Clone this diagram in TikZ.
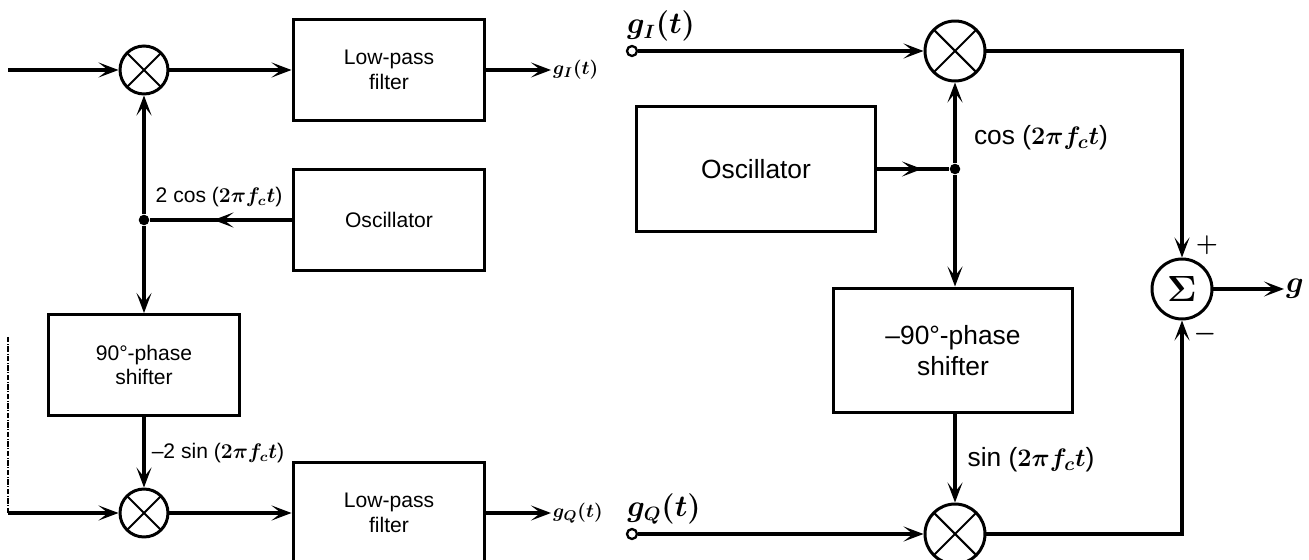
\documentclass[tikz,border=0pt]{standalone}
\usepackage{fontspec}
\setmainfont{Liberation Sans}
\usetikzlibrary{positioning, arrows.meta, decorations.markings}

\begin{document}
\begin{tikzpicture}[
  x=0.02cm, y=-0.02cm,
  font=\fontsize{12}{14}\selectfont,
  tip/.tip={Stealth[length=4mm, width=3mm, inset=1.9mm]},
  sigline/.style={line width=2.2pt},
  sig/.style={sigline, -tip},
  midarrow/.style={
    sigline,
    postaction={decorate},
    decoration={markings, mark=at position #1 with {\arrow{tip}}}
  },
  block/.style={
    draw,
    line width=1.7pt,
    minimum width=3.84cm,
    minimum height=2.02cm,
    align=center,
    inner sep=2pt
  },
  bigblock/.style={
    block,
    minimum width=4.8cm,
    minimum height=2.5cm,
    font=\fontsize{15}{18}\selectfont
  },
  mixer/.style={
    draw, circle,
    line width=1.7pt,
    minimum size=0.96cm,
    inner sep=0pt,
    path picture={
      \draw[line width=1.2pt]
        (path picture bounding box.north west) -- (path picture bounding box.south east)
        (path picture bounding box.south west) -- (path picture bounding box.north east);
    }
  },
  bigmixer/.style={mixer, minimum size=1.2cm},
  sumnode/.style={
    draw, circle,
    line width=1.7pt,
    minimum size=1.2cm,
    inner sep=0pt,
    font=\fontsize{22}{24}\selectfont\boldmath
  },
  junction/.style={circle, fill, inner sep=0pt, minimum size=6pt},
  terminal/.style={circle, draw, fill=white, line width=1.3pt, inner sep=0pt, minimum size=0.2cm},
  siglabel/.style={inner sep=1pt, font=\fontsize{12}{14}\selectfont\boldmath},
  bigsiglabel/.style={inner sep=1pt, font=\fontsize{15}{18}\selectfont\boldmath}
]

\useasboundingbox (0,0) rectangle (1309,560);

% demodulator
\coordinate (inI) at (8,70);
\coordinate (inQ) at (8,513);
\node[mixer] (mixI) at (144,70) {};
\node[mixer] (mixQ) at (144,513) {};
\node[block] (lpfI) at (389,70) {Low-pass\\filter};
\node[block] (lpfQ) at (389,513) {Low-pass\\filter};
\node[block] (oscL) at (389,220) {Oscillator};
\node[block] (shiftL) at (144,365) {90°-phase\\shifter};
\node[junction] (jL) at (oscL.west -| mixI) {};
\node[siglabel, anchor=west, font=\fontsize{11}{13}\selectfont\boldmath] (gIout) at (551,70) {$g_I(t)$};
\node[siglabel, anchor=west, font=\fontsize{11}{13}\selectfont\boldmath] (gQout) at (551,513) {$g_Q(t)$};

\draw[sig] (inI) -- (mixI.west);
\draw[sig] (mixI.east) -- (lpfI.west);
\draw[sig] (lpfI.east) -- (gIout.west);
\draw[midarrow=0.55] (oscL.west) -- (jL);
\draw[sig] (jL) -- (mixI.south);
\draw[sig] (jL) -- (shiftL.north);
\draw[sig] (shiftL.south) -- (mixQ.north);
\draw[sig] (inQ) -- (mixQ.west);
\draw[sig] (mixQ.east) -- (lpfQ.west);
\draw[sig] (lpfQ.east) -- (gQout.west);
\draw[densely dash dot, line width=0.6pt] (8,337) -- (inQ);

\node[siglabel] (cosL) at (219,197) {2 cos ($2\pi f_c t$)};
\node[siglabel] (sinL) at (218,453) {–2 sin ($2\pi f_c t$)};

% modulator
\node[terminal] (tI) at (632,51) {};
\node[terminal] (tQ) at (632,534) {};
\node[bigsiglabel, font=\fontsize{16}{18}\selectfont\boldmath] (gIin) at (661,26) {$g_I(t)$};
\node[bigsiglabel, font=\fontsize{16}{18}\selectfont\boldmath] (gQin) at (664,509) {$g_Q(t)$};
\node[bigmixer] (mixR1) at (955,51) {};
\node[bigmixer] (mixR2) at (955,534) {};
\node[bigblock] (oscR) at (756,169) {Oscillator};
\node[bigblock] (shiftR) at (953,350.5) {–90°-phase\\shifter};
\node[junction] (jR) at (oscR.east -| mixR1) {};
\node[sumnode] (sum) at (1182,289) {$\Sigma$};
\node[bigsiglabel, anchor=west, font=\fontsize{16}{18}\selectfont\boldmath] (gout) at (1284,289) {$g$};

\draw[sig] (tI) -- (mixR1.west);
\draw[midarrow=0.62] (oscR.east) -- (jR);
\draw[sig] (jR) -- (mixR1.south);
\draw[sig] (jR) -- (shiftR.north -| jR);
\draw[sig] (shiftR.south -| jR) -- (mixR2.north);
\draw[sig] (tQ) -- (mixR2.west);
\draw[sig] (mixR1.east) -| (sum.north);
\draw[sig] (mixR2.east) -| (sum.south);
\draw[sig] (sum.east) -- (gout.west);

\node[bigsiglabel] (cosR) at (1041,138) {cos ($2\pi f_c t$)};
\node[bigsiglabel] (sinR) at (1031,460) {sin ($2\pi f_c t$)};
\node[font=\fontsize{15}{17}\selectfont\boldmath] (plus) at (1207,245) {$+$};
\node[font=\fontsize{15}{17}\selectfont\boldmath] (minus) at (1205,334) {$-$};

\end{tikzpicture}
\end{document}
